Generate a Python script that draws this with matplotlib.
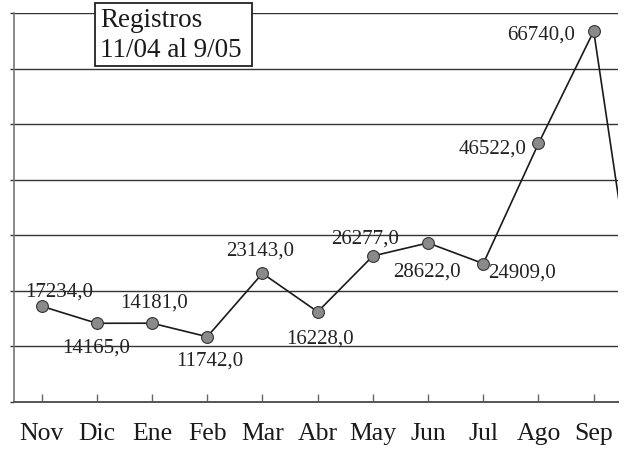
import matplotlib
matplotlib.use("Agg")
import matplotlib.pyplot as plt
from matplotlib.patches import Rectangle

# monthly registrations
months = ['Nov', 'Dic', 'Ene', 'Feb', 'Mar', 'Abr', 'May', 'Jun', 'Jul', 'Ago', 'Sep', 'Oct']
values = [17234, 14165, 14181, 11742, 23143, 16228, 26277, 28622, 24909, 46522, 66740, 0]
n_labeled = 11

# label offsets (pixels) for each value label
offsets = [(18, 14), (-1, -25), (2, 20), (2, -24), (-2, 22), (2, -27),
           (-8, 17), (-1, -29), (39, -9), (-46, -6), (-53, -4)]

plt.rcParams['font.family'] = ['Liberation Serif', 'DejaVu Serif']

fig = plt.figure(figsize=(6.24, 4.5), dpi=100)
W, H = 624, 450
ax = fig.add_axes([14 / W, (H - 402) / H, (618 - 14) / W, (402 - 13) / H])

xs = list(range(len(months)))
ax.plot(xs, values, color='#1a1a1a', lw=1.2, marker='o', markersize=8.5,
        markerfacecolor='#8a8a8a', markeredgecolor='#333333', markeredgewidth=0.8,
        zorder=3)

for i in range(n_labeled):
    ax.annotate(f"{values[i]},0", (xs[i], values[i]), xytext=offsets[i],
                textcoords='offset pixels', ha='center', va='center',
                fontsize=15, color='#222222', zorder=4)

ax.set_xlim(-0.5, 10.44)
ax.set_ylim(0, 70000)
ax.set_xticks(xs[:n_labeled])
ax.set_xticklabels(months[:n_labeled], fontsize=18.5, color='#1a1a1a')
ax.set_yticks(range(0, 70001, 10000))
ax.set_yticklabels([])
ax.yaxis.grid(True, color='#333333', lw=1.0)
ax.set_axisbelow(True)

ax.tick_params(axis='x', direction='in', length=6, width=1, color='#666666', pad=15)
ax.tick_params(axis='y', direction='out', length=3, width=1, color='#333333')

ax.spines['top'].set_visible(False)
ax.spines['right'].set_visible(False)
ax.spines['left'].set_color('#777777')
ax.spines['left'].set_linewidth(1.2)
ax.spines['bottom'].set_color('#555555')
ax.spines['bottom'].set_linewidth(1.4)

# legend-like box, top left
fig.add_artist(Rectangle((95 / W, 1 - 66 / H), (252 - 95) / W, (66 - 3) / H,
                         transform=fig.transFigure, facecolor='white',
                         edgecolor='#222222', lw=1.3, zorder=5))
fig.text(100 / W, 1 - 8 / H, "Registros\n11/04 al 9/05", fontsize=19.5, color='#1a1a1a',
         ha='left', va='top', linespacing=1.25, zorder=6)

fig.savefig('out.png', dpi=100)
